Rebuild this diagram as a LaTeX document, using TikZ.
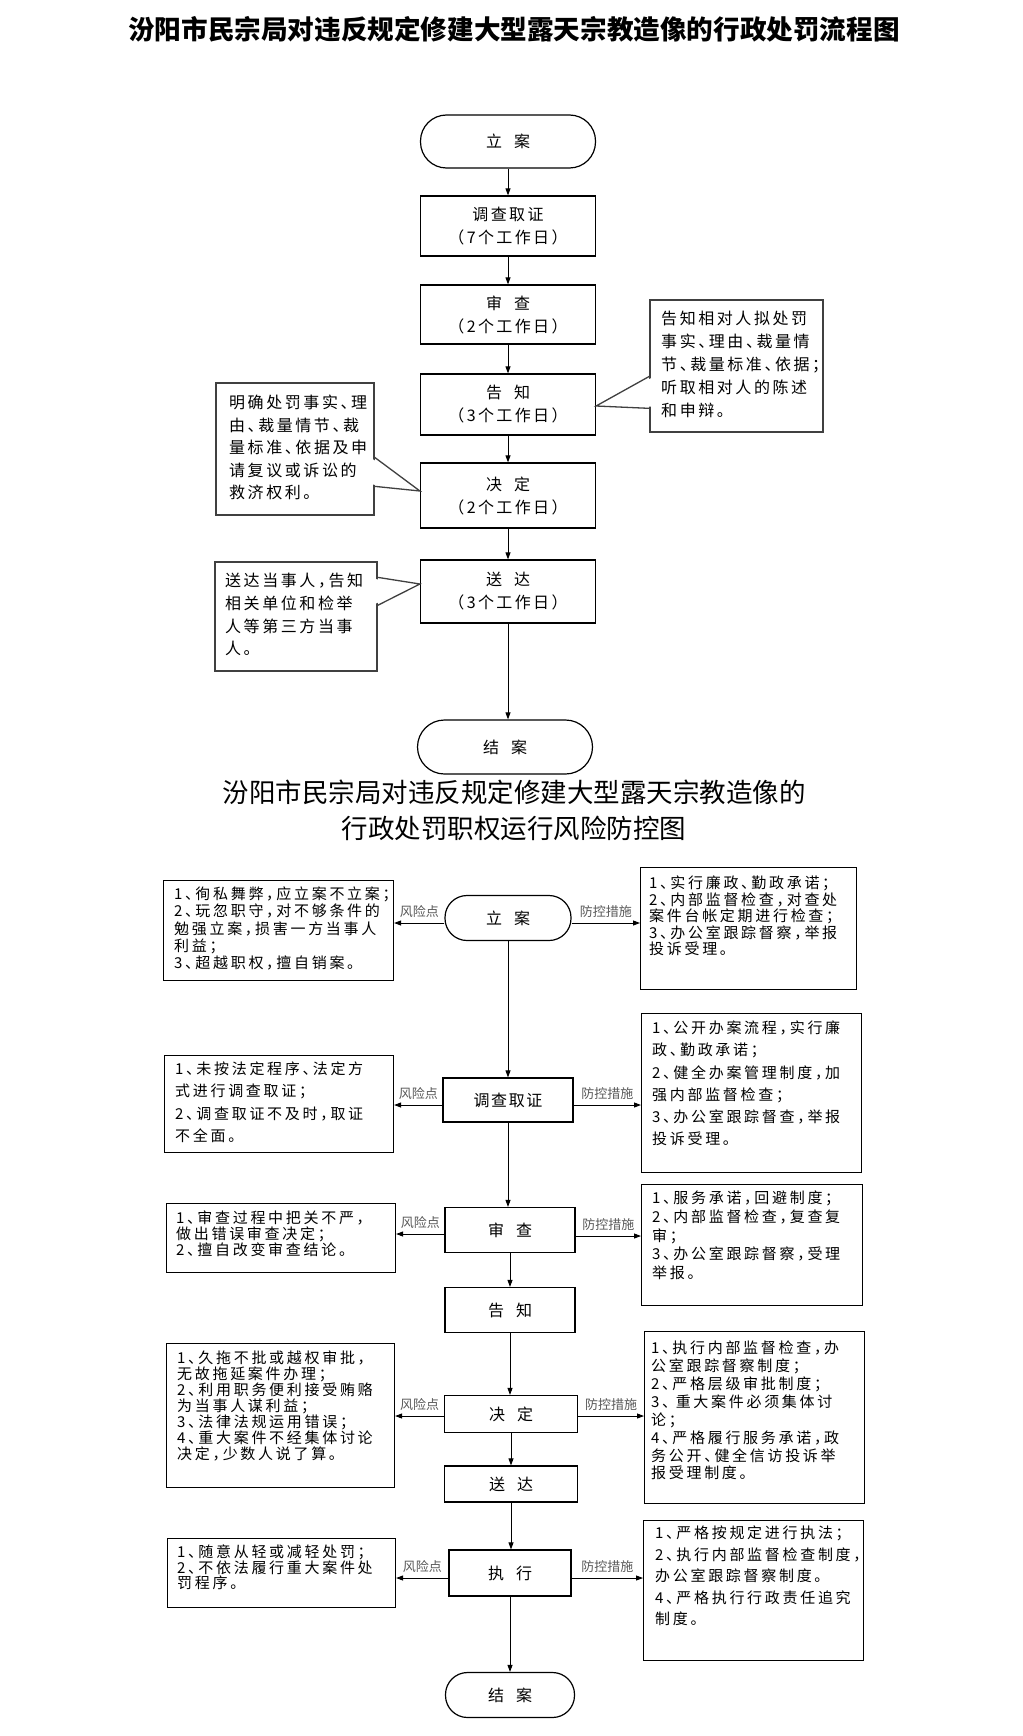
\documentclass[tikz,border=0pt]{standalone}
\usepackage{fontspec}
\setmainfont{Noto Sans CJK SC}[RawFeature={+halt}]
\newfontfamily\notefont{Noto Sans CJK SC}[RawFeature={+halt},LetterSpace=16]
\newfontfamily\riskfont{Noto Sans CJK SC}[RawFeature={+halt},LetterSpace=18]
\newfontfamily\boxfont{Noto Sans CJK SC}[RawFeature={+halt},LetterSpace=15]
\newfontfamily\cenfont{Noto Sans CJK SC}[RawFeature={+halt},LetterSpace=10]
\newfontfamily\labfont{Noto Sans CJK SC}
\newcommand{\gp}{\hspace{0.75em}}
\usetikzlibrary{arrows.meta,calc}
\begin{document}
\begin{tikzpicture}[x=1pt,y=-1pt,
  fbox/.style={draw=black, line width=1.2pt, minimum width=175pt, inner sep=0pt, align=center, font=\boxfont\fontsize{16}{23}\selectfont},
  fterm/.style={fbox, rounded corners=26pt, minimum height=53pt},
  arr/.style={-{Triangle[length=7pt,width=5pt]}, line width=0.9pt},
  nbox/.style={draw=black!75, line width=1.3pt, inner sep=0pt},
  nline/.style={draw=black!75, line width=1.3pt},
  ntext/.style={anchor=north west, inner sep=0pt, align=left, font=\notefont\fontsize{16}{22.7}\selectfont},
  cbox/.style={draw=black, line width=1.2pt, inner sep=0pt, font=\cenfont\fontsize{16}{20}\selectfont},
  sbox/.style={draw=black, line width=1.1pt, inner sep=0pt, anchor=north west},
  stext/.style={anchor=north west, inner sep=0pt, align=left},
  lab/.style={font=\labfont\fontsize{13}{15}\selectfont, text=black!65, inner sep=1.5pt, above=3.5pt}
]
\useasboundingbox (0,0) rectangle (1022,1736);
\fill[white] (0,0) rectangle (1022,1736);

% ---------- Title 1 ----------
\node[font=\fontsize{26.6}{30}\selectfont\bfseries] (title1) at (514,29) {汾阳市民宗局对违反规定修建大型露天宗教造像的行政处罚流程图};

% ---------- Flow chart ----------
\node[fterm] (t1) at (508,141.5) {立\gp 案};
\node[fbox, minimum height=60pt] (t2) at (508,226) {调查取证\\（7个工作日）};
\node[fbox, minimum height=59pt] (t3) at (508,314.5) {审\gp 查\\（2个工作日）};
\node[fbox, minimum height=61pt] (t4) at (508,404.5) {告\gp 知\\（3个工作日）};
\node[fbox, minimum height=65pt] (t5) at (508,495.5) {决\gp 定\\（2个工作日）};
\node[fbox, minimum height=63pt] (t6) at (508,591.5) {送\gp 达\\（3个工作日）};
\node[fterm, minimum height=54pt, rounded corners=27pt] (t7) at (505,747) {结\gp 案};

\draw[arr] (t1.south) -- (t1.south |- t2.north);
\draw[arr] (t2.south) -- (t2.south |- t3.north);
\draw[arr] (t3.south) -- (t3.south |- t4.north);
\draw[arr] (t4.south) -- (t4.south |- t5.north);
\draw[arr] (t5.south) -- (t5.south |- t6.north);
\draw[arr] (t6.south) -- (t6.south |- t7.north);

% right note (告知)
\node[nbox, minimum width=173pt, minimum height=132pt] (n1) at (736.5,366) {};
\coordinate (n1a) at ($(n1.north west)+(0,77)$);
\coordinate (n1b) at ($(n1.north west)+(0,109)$);
\coordinate (n1tip) at ($(t4.east)+(0,1.5)$);
\fill[white] ($(n1a)+(1.8,1.8)$) -- (n1tip) -- ($(n1b)+(1.8,-1.8)$) -- cycle;
\draw[nline] (n1a) -- (n1tip) -- (n1b);
\node[ntext, font=\notefont\fontsize{16}{23}\selectfont] (n1t) at (661,311) {告知相对人拟处罚\\事实、理由、裁量情\\节、裁量标准、依据；\\听取相对人的陈述\\和申辩。};

% left note (决定)
\node[nbox, minimum width=158pt, minimum height=132pt] (n2) at (295,449) {};
\coordinate (n2a) at ($(n2.north east)+(0,75)$);
\coordinate (n2b) at ($(n2.north east)+(0,104)$);
\coordinate (n2tip) at ($(t5.west)+(0,-4.5)$);
\fill[white] ($(n2a)+(-1.8,1.8)$) -- (n2tip) -- ($(n2b)+(-1.8,-1.8)$) -- cycle;
\draw[nline] (n2a) -- (n2tip) -- (n2b);
\node[ntext, font=\notefont\fontsize{16}{22.5}\selectfont] (n2t) at (229,395) {明确处罚事实、理\\由、裁量情节、裁\\量标准、依据及申\\请复议或诉讼的\\救济权利。};

% left note (送达)
\node[nbox, minimum width=162pt, minimum height=109pt] (n3) at (296,616.5) {};
\coordinate (n3a) at ($(n3.north east)+(0,16)$);
\coordinate (n3b) at ($(n3.north east)+(0,44)$);
\coordinate (n3tip) at ($(t6.west)+(0,-7.5)$);
\fill[white] ($(n3a)+(-1.8,1.8)$) -- (n3tip) -- ($(n3b)+(-1.8,-1.8)$) -- cycle;
\draw[nline] (n3a) -- (n3tip) -- (n3b);
\node[ntext] (n3t) at (225,573) {送达当事人，告知\\相关单位和检举\\人等第三方当事\\人。};

% ---------- Title 2 ----------
\node[font=\fontsize{26.5}{36}\selectfont, align=center] (title2) at (514,810) {汾阳市民宗局对违反规定修建大型露天宗教造像的\\行政处罚职权运行风险防控图};

% ---------- Risk chart: centre column ----------
\node[cbox, rounded corners=22pt, minimum width=126pt, minimum height=45pt] (r1) at (508,918) {立\gp 案};
\node[cbox, minimum width=130pt, minimum height=44pt] (r2) at (508,1100) {调查取证};
\node[cbox, minimum width=130pt, minimum height=45pt] (r3) at (510,1230) {审\gp 查};
\node[cbox, minimum width=130pt, minimum height=45pt] (r4) at (510,1310) {告\gp 知};
\node[cbox, minimum width=133pt, minimum height=37pt] (r5) at (511,1414) {决\gp 定};
\node[cbox, minimum width=133pt, minimum height=36pt] (r6) at (511,1484) {送\gp 达};
\node[cbox, minimum width=122pt, minimum height=46pt] (r7) at (510,1573) {执\gp 行};
\node[cbox, rounded corners=22pt, minimum width=129pt, minimum height=45pt] (r8) at (510,1695) {结\gp 案};

\draw[arr] (r1.south) -- (r1.south |- r2.north);
\draw[arr] (r2.south) -- (r2.south |- r3.north);
\draw[arr] (r3.south) -- (r3.south |- r4.north);
\draw[arr] (r4.south) -- (r4.south |- r5.north);
\draw[arr] (r5.south) -- (r5.south |- r6.north);
\draw[arr] (r6.south) -- (r6.south |- r7.north);
\draw[arr] (r7.south) -- (r7.south |- r8.north);

% ---------- side boxes ----------
\node[sbox, minimum width=230pt, minimum height=100pt] (L1) at (163,880) {};
\node[sbox, minimum width=216pt, minimum height=122pt] (R1) at (640,867) {};
\node[sbox, minimum width=229pt, minimum height=97pt] (L2) at (164,1055) {};
\node[sbox, minimum width=220pt, minimum height=159pt] (R2) at (641,1013) {};
\node[sbox, minimum width=229pt, minimum height=69pt] (L3) at (166,1203) {};
\node[sbox, minimum width=221pt, minimum height=121pt] (R3) at (641,1184) {};
\node[sbox, minimum width=228pt, minimum height=144pt] (L4) at (166,1343) {};
\node[sbox, minimum width=220pt, minimum height=172pt] (R4) at (644,1331) {};
\node[sbox, minimum width=228pt, minimum height=69pt] (L5) at (167,1538) {};
\node[sbox, minimum width=220pt, minimum height=140pt] (R5) at (643,1520) {};

\node[stext, font=\riskfont\fontsize{15}{17.25}\selectfont] (L1t) at (174,886.7) {1、徇私舞弊，应立案不立案；\\2、玩忽职守，对不够条件的\\勉强立案，损害一方当事人\\利益；\\3、超越职权，擅自销案。};
\node[stext, font=\riskfont\fontsize{15}{16.5}\selectfont] (R1t) at (649,875.7) {1、实行廉政、勤政承诺；\\2、内部监督检查，对查处\\案件台帐定期进行检查；\\3、办公室跟踪督察，举报\\投诉受理。};
\node[stext, font=\riskfont\fontsize{15}{22.3}\selectfont] (L2t) at (175,1061.7) {1、未按法定程序、法定方\\式进行调查取证；\\2、调查取证不及时，取证\\不全面。};
\node[stext, font=\riskfont\fontsize{15}{22.2}\selectfont] (R2t) at (652,1020.7) {1、公开办案流程，实行廉\\政、勤政承诺；\\2、健全办案管理制度，加\\强内部监督检查；\\3、办公室跟踪督查，举报\\投诉受理。};
\node[stext, font=\riskfont\fontsize{15}{16}\selectfont] (L3t) at (176,1210.7) {1、审查过程中把关不严，\\做出错误审查决定；\\2、擅自改变审查结论。};
\node[stext, font=\riskfont\fontsize{15}{18.75}\selectfont] (R3t) at (652,1190.7) {1、服务承诺，回避制度；\\2、内部监督检查，复查复\\审；\\3、办公室跟踪督察，受理\\举报。};
\node[stext, font=\riskfont\fontsize{15}{16}\selectfont] (L4t) at (177,1350.7) {1、久拖不批或越权审批，\\无故拖延案件办理；\\2、利用职务便利接受贿赂\\为当事人谋利益；\\3、法律法规运用错误；\\4、重大案件不经集体讨论\\决定，少数人说了算。};
\node[stext, font=\riskfont\fontsize{15}{17.9}\selectfont] (R4t) at (651,1340.7) {1、执行内部监督检查，办\\公室跟踪督察制度；\\2、严格层级审批制度；\\3、 重大案件必须集体讨\\论；\\4、严格履行服务承诺，政\\务公开、健全信访投诉举\\报受理制度。};
\node[stext, font=\riskfont\fontsize{15}{15.5}\selectfont] (L5t) at (177,1544.7) {1、随意从轻或减轻处罚；\\2、不依法履行重大案件处\\罚程序。};
\node[stext, font=\riskfont\fontsize{15}{21.5}\selectfont] (R5t) at (655,1525.7) {1、严格按规定进行执法；\\2、执行内部监督检查制度，\\办公室跟踪督察制度。\\4、严格执行行政责任追究\\制度。};

% ---------- horizontal arrows ----------
\coordinate (r1w) at ($(r1.west)+(0,5)$);
\coordinate (r1e) at ($(r1.east)+(0,5)$);
\draw[arr] (r1w) -- (r1w -| L1.east) node[lab, midway] {风险点};
\draw[arr] (r1e) -- (r1e -| R1.west) node[lab, midway] {防控措施};
\coordinate (r2w) at ($(r2.west)+(0,5)$);
\coordinate (r2e) at ($(r2.east)+(0,5)$);
\draw[arr] (r2w) -- (r2w -| L2.east) node[lab, midway] {风险点};
\draw[arr] (r2e) -- (r2e -| R2.west) node[lab, midway] {防控措施};
\coordinate (r3w) at ($(r3.west)+(0,4)$);
\coordinate (r3e) at ($(r3.east)+(0,6)$);
\draw[arr] (r3w) -- (r3w -| L3.east) node[lab, midway] {风险点};
\draw[arr] (r3e) -- (r3e -| R3.west) node[lab, midway] {防控措施};
\coordinate (r5w) at ($(r5.west)+(0,2)$);
\coordinate (r5e) at ($(r5.east)+(0,2)$);
\draw[arr] (r5w) -- (r5w -| L4.east) node[lab, midway] {风险点};
\draw[arr] (r5e) -- (r5e -| R4.west) node[lab, midway] {防控措施};
\coordinate (r7w) at ($(r7.west)+(0,5)$);
\coordinate (r7e) at ($(r7.east)+(0,5)$);
\draw[arr] (r7w) -- (r7w -| L5.east) node[lab, midway] {风险点};
\draw[arr] (r7e) -- (r7e -| R5.west) node[lab, midway] {防控措施};
\end{tikzpicture}
\end{document}
